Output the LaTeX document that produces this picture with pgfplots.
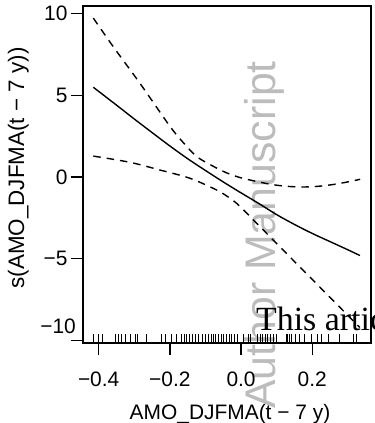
\documentclass[border=0pt]{standalone}
\usepackage{fontspec}
\setmainfont{Liberation Sans}
\newfontfamily\serifw{Liberation Serif}
\usepackage{pgfplots}
\pgfplotsset{compat=1.18}
\definecolor{wm}{RGB}{188,188,188}
\begin{document}
\begin{tikzpicture}[x=1bp,y=1bp]
\useasboundingbox (0,0) rectangle (375,423);
\node[rotate=90, anchor=base west, text=wm, inner sep=0pt, font=\fontsize{43}{50}\selectfont] at (276,14) {Author Manuscript};
\begin{axis}[
  at={(83bp,80bp)}, anchor=south west,
  scale only axis, width=288bp, height=337bp,
  xmin=-0.444, xmax=0.365, ymin=-10.15, ymax=10.46,
  axis line style={line width=1.3bp},
  tick style={line width=1.3bp, black},
  tick align=outside, major tick length=12bp,
  xtick pos=bottom, ytick pos=left,
  xtick={-0.4,-0.2,0,0.2}, xticklabels={−0.4,−0.2,0.0,0.2},
  ytick={-10,-5,0,5,10}, yticklabels={,−5,0,5,10},
  tick label style={font=\fontsize{21}{25}\selectfont},
  xticklabel style={yshift=-13bp},
  clip=false,
]
\addplot[black, line width=1.4bp, smooth] coordinates {
(-0.415,5.49) (-0.35,4.4) (-0.3,3.55) (-0.25,2.72) (-0.2,1.9) (-0.15,1.12)
(-0.1,0.4) (-0.05,-0.3) (0,-0.97) (0.05,-1.62) (0.1,-2.3) (0.15,-2.9)
(0.2,-3.45) (0.25,-3.95) (0.3,-4.45) (0.334,-4.8)};
\addplot[black, line width=1.4bp, dash pattern=on 7.5bp off 6bp, smooth] coordinates {
(-0.415,9.72) (-0.359,7.97) (-0.284,5.73) (-0.199,3.08) (-0.16,2.05) (-0.124,1.24)
(-0.08,0.68) (-0.04,0.25) (0.0,-0.05) (0.05,-0.3) (0.09,-0.47) (0.13,-0.57)
(0.174,-0.61) (0.22,-0.56) (0.27,-0.42) (0.326,-0.18) (0.334,-0.13)};
\addplot[black, line width=1.4bp, dash pattern=on 7.5bp off 6bp, smooth] coordinates {
(-0.415,1.28) (-0.312,0.9) (-0.228,0.43) (-0.143,-0.08) (-0.068,-0.8)
(-0.031,-1.3) (-0.003,-1.8) (0.072,-3.45) (0.128,-4.68) (0.166,-5.52)
(0.194,-6.13) (0.258,-7.54) (0.32,-8.9) (0.334,-9.2)};
\addplot[only marks, mark=|, mark size=4.5bp, mark options={line width=0.6bp, black}] coordinates {
(-0.415,-9.88) (-0.402,-9.88) (-0.390,-9.88) (-0.354,-9.88) (-0.346,-9.88) (-0.336,-9.88)
(-0.324,-9.88) (-0.312,-9.88) (-0.298,-9.88) (-0.291,-9.88) (-0.267,-9.88) (-0.225,-9.88)
(-0.213,-9.88) (-0.197,-9.88) (-0.181,-9.88) (-0.167,-9.88) (-0.160,-9.88) (-0.153,-9.88)
(-0.146,-9.88) (-0.136,-9.88) (-0.129,-9.88) (-0.121,-9.88) (-0.110,-9.88) (-0.101,-9.88)
(-0.091,-9.88) (-0.084,-9.88) (-0.079,-9.88) (-0.073,-9.88) (-0.065,-9.88) (-0.056,-9.88)
(-0.049,-9.88) (-0.041,-9.88) (-0.034,-9.88) (-0.027,-9.88) (-0.018,-9.88) (-0.011,-9.88)
(0.005,-9.88) (0.020,-9.88) (0.025,-9.88) (0.046,-9.88) (0.053,-9.88) (0.061,-9.88)
(0.067,-9.88) (0.075,-9.88) (0.083,-9.88) (0.091,-9.88) (0.099,-9.88) (0.126,-9.88)
(0.130,-9.88) (0.136,-9.88) (0.142,-9.88) (0.152,-9.88) (0.164,-9.88) (0.177,-9.88)
(0.197,-9.88) (0.213,-9.88) (0.226,-9.88) (0.244,-9.88) (0.277,-9.88) (0.315,-9.88)
(0.324,-9.88)};
\end{axis}
\node[anchor=base east, inner sep=0pt, font=\fontsize{21}{25}\selectfont] at (76,90) {−10};
\node[anchor=base, inner sep=0pt, font=\fontsize{21}{25}\selectfont] at (230,4) {AMO\_DJFMA(t − 7 y)};
\node[rotate=90, anchor=base, inner sep=0pt, font=\fontsize{22.5}{27}\selectfont] at (24,255) {s(AMO\_DJFMA(t − 7 y))};
\node[anchor=base west, inner sep=0pt, font=\serifw\fontsize{34}{40}\selectfont] at (256,93) {This article is protected by copyright. All rights reserved.};
\end{tikzpicture}
\end{document}
